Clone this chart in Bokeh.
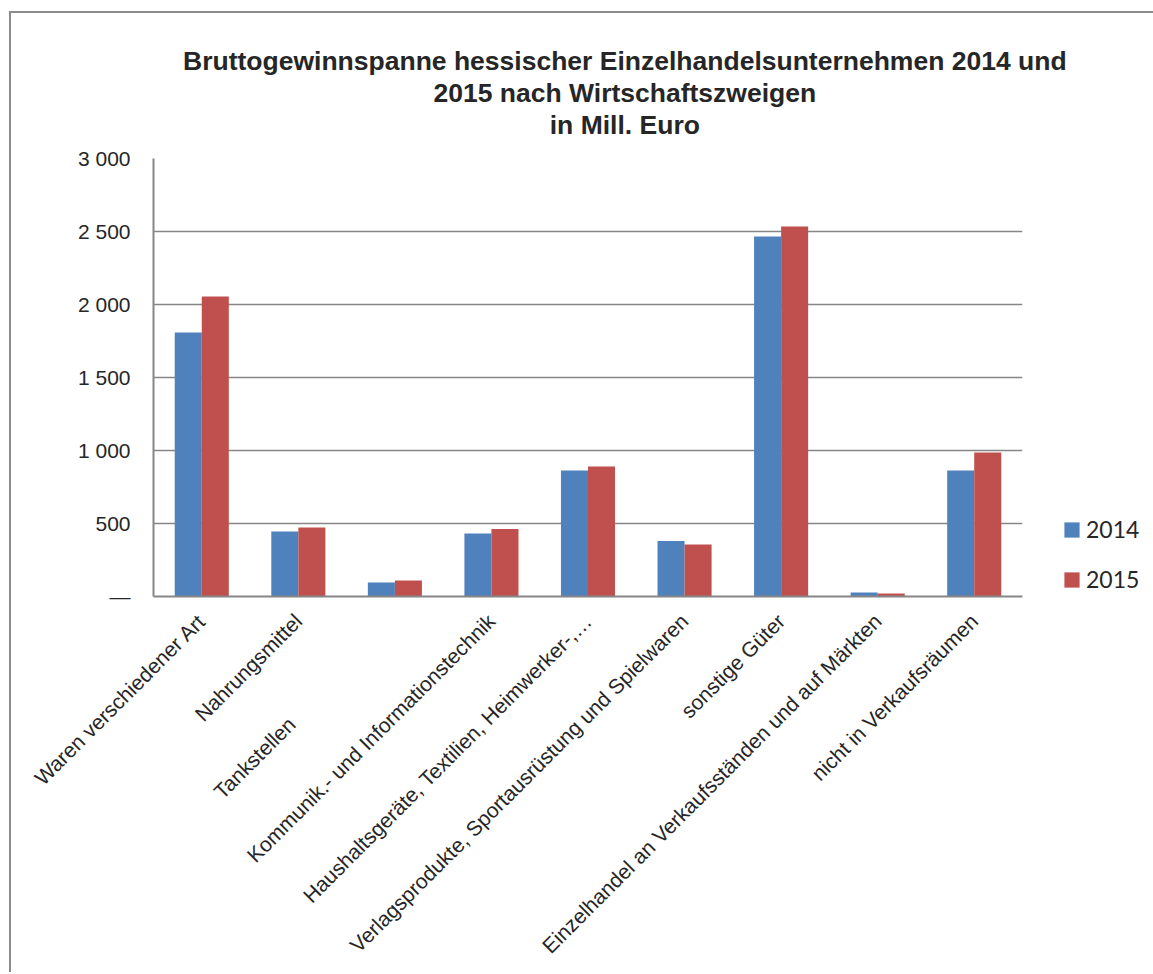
import math
from bokeh.plotting import figure
from bokeh.models import (Range1d, FixedTicker, Legend, LegendItem, Title,
                          ColumnDataSource)
from bokeh.transform import dodge
from bokeh.embed import file_html
from bokeh.resources import INLINE

# ---- data ----
categories = [
    "Waren verschiedener Art",
    "Nahrungsmittel",
    "Tankstellen",
    "Kommunik.- und Informationstechnik",
    "Haushaltsgeräte, Textilien, Heimwerker-,…",
    "Verlagsprodukte, Sportausrüstung und Spielwaren",
    "sonstige Güter",
    "Einzelhandel an Verkaufsständen und auf Märkten",
    "nicht in Verkaufsräumen",
]
# axis labels as they appear (the Tankstellen label carries trailing blanks in the original)
axis_labels = [c + ("\u00a0" * 25 if c == "Tankstellen" else "") for c in categories]
values_2014 = [1808, 445, 96, 431, 863, 380, 2466, 27, 863]
values_2015 = [2055, 472, 110, 462, 890, 356, 2534, 20, 986]
series_names = ["2014", "2015"]
y_ticks = [0, 500, 1000, 1500, 2000, 2500, 3000]
y_tick_labels = ["—", "500", "1 000", "1 500", "2 000", "2 500", "3 000"]
title_lines = [
    "Bruttogewinnspanne hessischer Einzelhandelsunternehmen 2014 und",
    "2015 nach Wirtschaftszweigen",
    "in Mill. Euro",
]

BLUE = "#4F81BD"
RED = "#C0504D"
GRAY = "#868686"
TXT = "#262626"
FONT = "Liberation Sans"

source = ColumnDataSource(dict(cat=axis_labels, v2014=values_2014, v2015=values_2015))

FL, FR, FT, FB = 153, 1022, 158, 596   # plot frame edges in page pixels
W_TOTAL, H_TOTAL = 1150, 972

p = figure(x_range=axis_labels, y_range=Range1d(0, 3000),
           frame_width=FR - FL, frame_height=FB - FT,
           output_backend="svg", toolbar_location=None, title=None,
           min_border_left=FL, min_border_right=W_TOTAL - FR,
           min_border_top=FT, min_border_bottom=H_TOTAL - FB)
p.outline_line_color = None
p.background_fill_color = None
p.border_fill_color = None
p.styles = {
    "background": ("linear-gradient(#8c8c8c, #8c8c8c) 9px 11px / 2px 100% no-repeat, "
                   "linear-gradient(#8c8c8c, #8c8c8c) 9px 11px / 100% 2px no-repeat, white"),
}

r1 = p.vbar(x=dodge("cat", -0.14, range=p.x_range), top="v2014", width=0.28,
            source=source, fill_color=BLUE, line_color=None)
r2 = p.vbar(x=dodge("cat", 0.14, range=p.x_range), top="v2015", width=0.28,
            source=source, fill_color=RED, line_color=None)

p.xgrid.grid_line_color = None
p.ygrid.grid_line_color = GRAY
p.ygrid.grid_line_width = 1.5
p.yaxis.ticker = FixedTicker(ticks=y_ticks)
p.yaxis.major_label_overrides = {tk: lb for tk, lb in zip(y_ticks, y_tick_labels)}

for ax in (p.xaxis[0], p.yaxis[0]):
    ax.axis_line_color = GRAY
    ax.axis_line_width = 2
    ax.major_tick_line_color = None
    ax.minor_tick_line_color = None
    ax.major_tick_out = 0
    ax.major_tick_in = 0
    ax.major_label_text_font = FONT
    ax.major_label_text_color = TXT

p.yaxis.major_label_text_font_size = "21px"
p.xaxis.major_label_text_font_size = "21px"
p.yaxis.major_label_standoff = 23
p.xaxis.major_label_orientation = math.pi / 4
p.xaxis.major_label_standoff = 21

legend = Legend(items=[LegendItem(label=series_names[0], renderers=[r1]),
                       LegendItem(label=series_names[1], renderers=[r2])],
                location=(40, 3), orientation="vertical",
                glyph_width=19, glyph_height=19, label_height=19,
                label_standoff=5, spacing=22, padding=0, margin=0,
                background_fill_alpha=0, border_line_color=None,
                label_text_font="Lato", label_text_font_size="23px",
                label_text_color=TXT)
p.add_layout(legend, "right")

# title: a small spacer next to the plot, then three centred lines
p.add_layout(Title(text="\u00a0", text_font_size="1px", standoff=16), "above")
pad = "\u00a0" * 10          # shifts the centred lines to the right, as in the original
for line in reversed(title_lines):
    p.add_layout(Title(text=pad + line, align="center", text_font=FONT,
                       text_font_style="bold", text_font_size="26.5px",
                       text_color=TXT, standoff=0), "above")

open("out.html", "w").write(file_html(p, INLINE))
